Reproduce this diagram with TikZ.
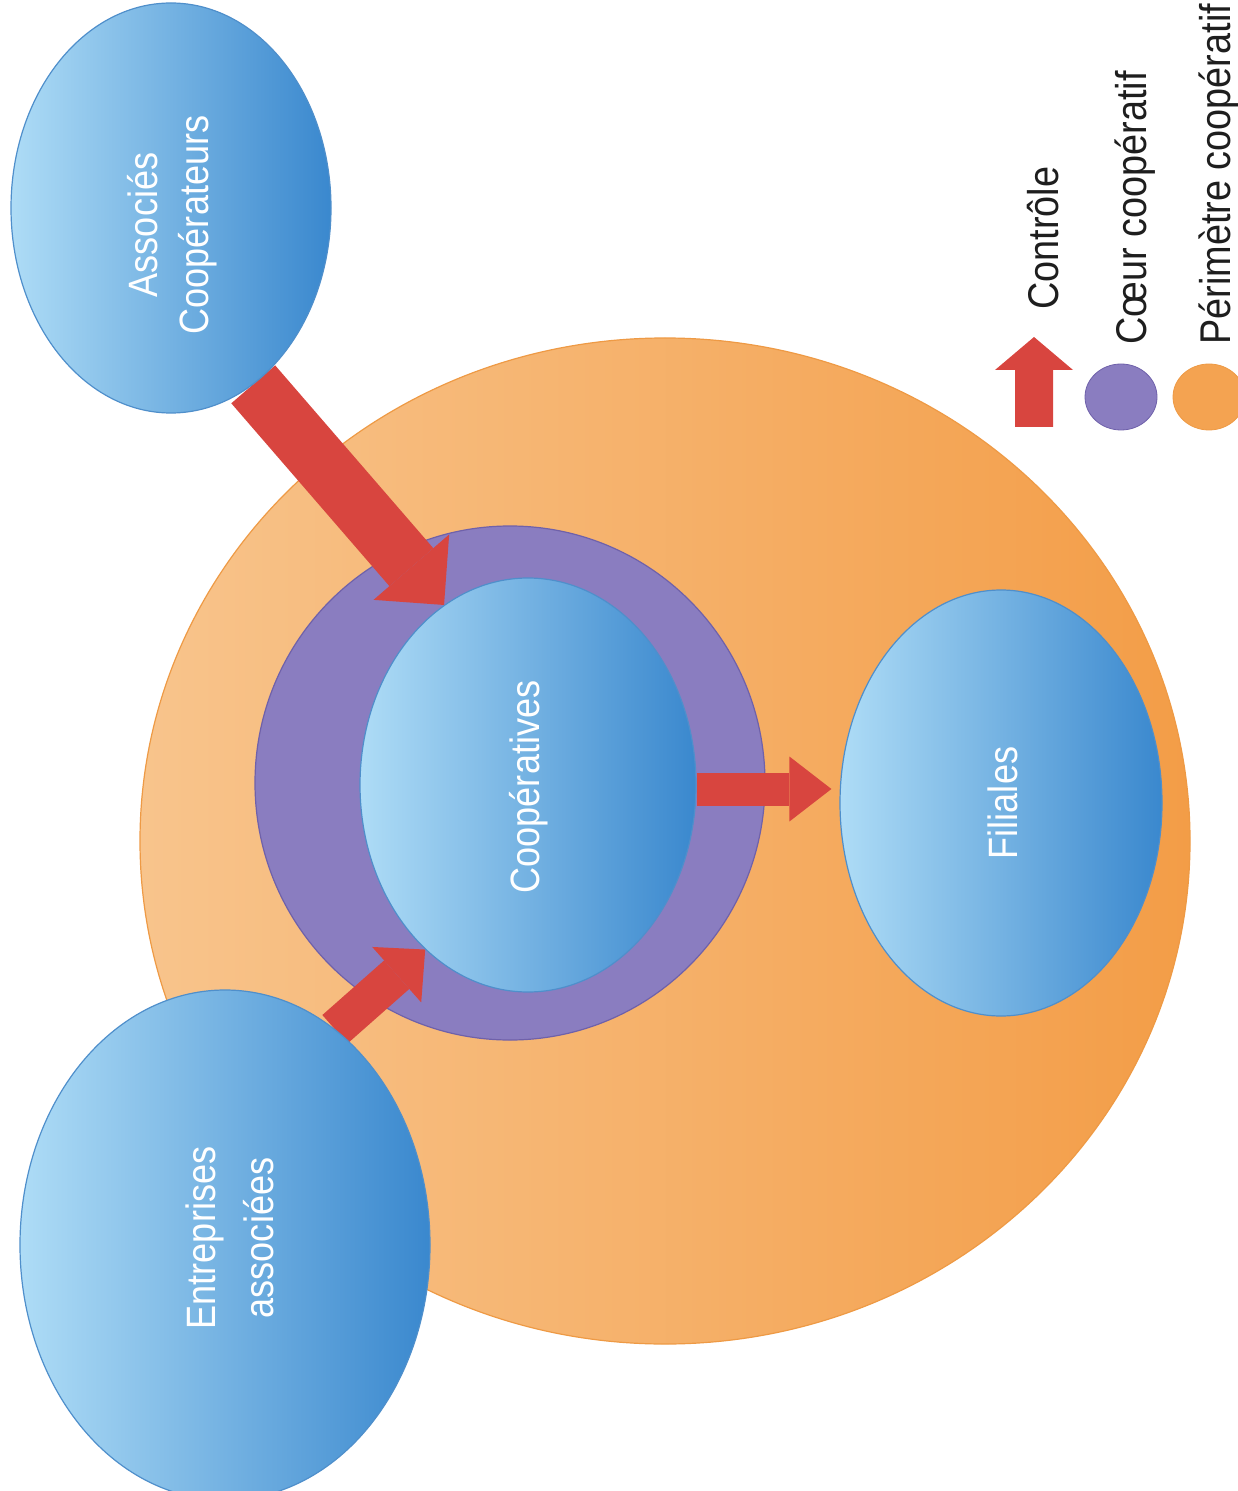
\documentclass[tikz,border=0pt]{standalone}
\usepackage{fontspec}
\setmainfont{Liberation Sans}[FakeStretch=0.88]
\usetikzlibrary{shapes.geometric,arrows.meta}
\definecolor{blueL}{HTML}{AEDCF6}
\definecolor{blueD}{HTML}{3A88CE}
\definecolor{blueB}{HTML}{4F8FCB}
\definecolor{orL}{HTML}{F8C48C}
\definecolor{orD}{HTML}{F39D47}
\definecolor{orB}{HTML}{EE9A45}
\definecolor{purp}{HTML}{8A7DC0}
\definecolor{purpB}{HTML}{6F61AA}
\definecolor{ctlred}{HTML}{D8453F}
\definecolor{txt}{HTML}{1E1E1E}
\tikzset{
  blob/.style={ellipse, draw=blueB, line width=0.6pt, left color=blueL, right color=blueD, inner sep=0pt},
  perim/.style={ellipse, draw=orB, line width=0.6pt, left color=orL, right color=orD, inner sep=0pt},
  ring/.style={ellipse, draw=purpB, line width=0.6pt, fill=purp, inner sep=0pt},
  lbl/.style={text=white, align=center, rotate=90, inner sep=0pt, font=\fontsize{20.5}{25.5}\selectfont},
  leg/.style={text=txt, anchor=base west, rotate=90, inner sep=0pt, font=\fontsize{21.5}{25}\selectfont},
  ctl/.style={draw=ctlred, line cap=butt},
}
\begin{document}
\begin{tikzpicture}[x=0.5pt,y=-0.5pt]
\useasboundingbox (0,0) rectangle (1237,1491);
% perimeter and core
\node[perim, minimum width=525pt, minimum height=503pt] (perim) at (665,841) {};
\node[ring, minimum width=255pt, minimum height=257pt] (ring) at (510,783) {};
\node[blob, minimum width=168pt, minimum height=207pt] (coop) at (528,785) {};
\node[blob, minimum width=161pt, minimum height=213pt] (fil) at (1001,803) {};
% outer entities (positions only, drawn after arrows)
\path (171,208) coordinate (assocC) (225,1245) coordinate (entrC);
\node[ellipse, minimum width=160pt, minimum height=205pt, inner sep=0pt] (assoc) at (assocC) {};
\node[ellipse, minimum width=205pt, minimum height=255pt, inner sep=0pt] (entr) at (entrC) {};
% control arrows
\draw[ctl, line width=29pt, -{Triangle[width=50pt,length=25pt,line width=0pt]}] (assoc.-65) -- (coop.115);
\draw[ctl, line width=19pt, -{Triangle[width=37pt,length=19pt,line width=0pt]}] (entr.63) -- (coop.238);
\draw[ctl, line width=16.5pt, -{Triangle[width=32.5pt,length=21pt,line width=0pt]}, shorten >=4pt] ([yshift=-2pt]coop.east) -- ([yshift=-2pt]coop.east -| fil.west);
% outer entities drawn on top
\node[blob, minimum width=160pt, minimum height=205pt] at (assocC) {};
\node[blob, minimum width=205pt, minimum height=255pt] at (entrC) {};
% labels
\node[lbl] (tassoc) at (172,225) {Associés\\Coopérateurs};
\node[lbl, font=\fontsize{20.5}{29}\selectfont] (tentr) at (230,1238) {Entreprises\\associées};
\node[lbl] (tcoop) at (529,787) {Coopératives};
\node[lbl] (tfil) at (1003,803) {Filiales};
% legend
\fill[ctlred] (1015,427) -- (1015,370) -- (995,370) -- (1034,337) -- (1073,370) -- (1053,370) -- (1053,427) -- cycle;
\node[ellipse, fill=purp, draw=purpB, line width=0.4pt, minimum width=36pt, minimum height=33pt] (legpurp) at (1121,397) {};
\node[ellipse, fill=orD!85!orL, draw=orB, line width=0.4pt, minimum width=36pt, minimum height=33pt] (legor) at (1209,397) {};
\node[leg] (lctl) at (1058,310) {Contrôle};
\node[leg] (lcoeur) at (1146,345) {Cœur coopératif};
\node[leg] (lperim) at (1230,345) {Périmètre coopératif};
\end{tikzpicture}
\end{document}
